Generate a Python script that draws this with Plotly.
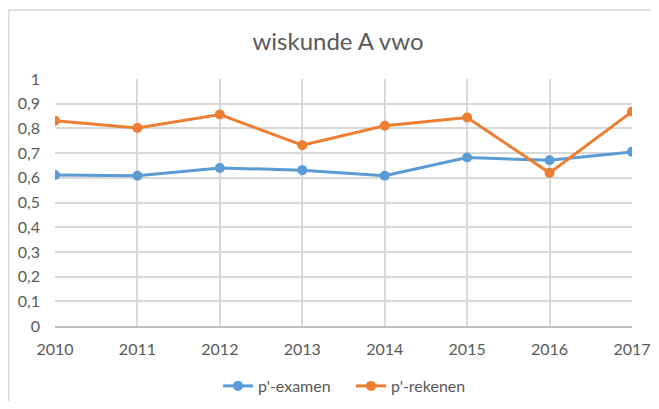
import plotly.graph_objects as go

years = ['2010', '2011', '2012', '2013', '2014', '2015', '2016', '2017']
p_examen = [0.611, 0.608, 0.640, 0.631, 0.608, 0.682, 0.671, 0.705]
p_rekenen = [0.831, 0.802, 0.856, 0.732, 0.811, 0.844, 0.620, 0.868]
y_ticks = [0, 0.1, 0.2, 0.3, 0.4, 0.5, 0.6, 0.7, 0.8, 0.9, 1]

blue = '#5B9BD5'
orange = '#ED7D31'
grey_text = '#595959'
grid = '#D9D9D9'

# the page body has an 8px margin, so the figure is drawn 8px smaller
W, H = 643, 393

fig = go.Figure()
fig.add_trace(go.Scatter(name="p'-examen", x=years, y=p_examen, mode='lines+markers',
                         line=dict(color=blue, width=3), marker=dict(size=10, color=blue)))
fig.add_trace(go.Scatter(name="p'-rekenen", x=years, y=p_rekenen, mode='lines+markers',
                         line=dict(color=orange, width=3), marker=dict(size=10, color=orange)))

fig.update_layout(
    width=W,
    height=H,
    separators=',.',
    paper_bgcolor='white',
    plot_bgcolor='white',
    font=dict(family='Lato', size=16, color=grey_text),
    title=dict(text='wiskunde A vwo', x=330 / W, xref='container', xanchor='center',
               y=1 - 34 / H, yref='container', yanchor='middle',
               font=dict(size=24, color=grey_text)),
    margin=dict(l=47, r=19, t=71, b=75, autoexpand=False),
    showlegend=True,
    legend=dict(orientation='h', x=343 / W, xref='container', xanchor='center',
                y=1 - 378 / H, yref='container', yanchor='middle',
                font=dict(size=16, color=grey_text), itemwidth=30,
                entrywidth=88, entrywidthmode='pixels'),
    # chart border like the Excel chart area
    shapes=[dict(type='rect', xref='paper', yref='paper', x0=-0.08, x1=1.2, y0=-0.6, y1=1.279,
                 line=dict(color=grid, width=1.5), layer='below')],
)
fig.update_xaxes(
    type='category',
    range=[0, 7],
    automargin=False,
    showgrid=True, gridcolor=grid, gridwidth=1.5,
    showline=True, linecolor='#BFBFBF', linewidth=1.5,
    ticks='', ticklabelstandoff=8,
)
fig.update_yaxes(
    range=[0, 1],
    tickvals=y_ticks,
    automargin=False,
    showgrid=True, gridcolor=grid, gridwidth=1.5,
    zeroline=False,
    showline=False,
    ticks='', ticklabelstandoff=14,
)

fig.write_html("out.html")
